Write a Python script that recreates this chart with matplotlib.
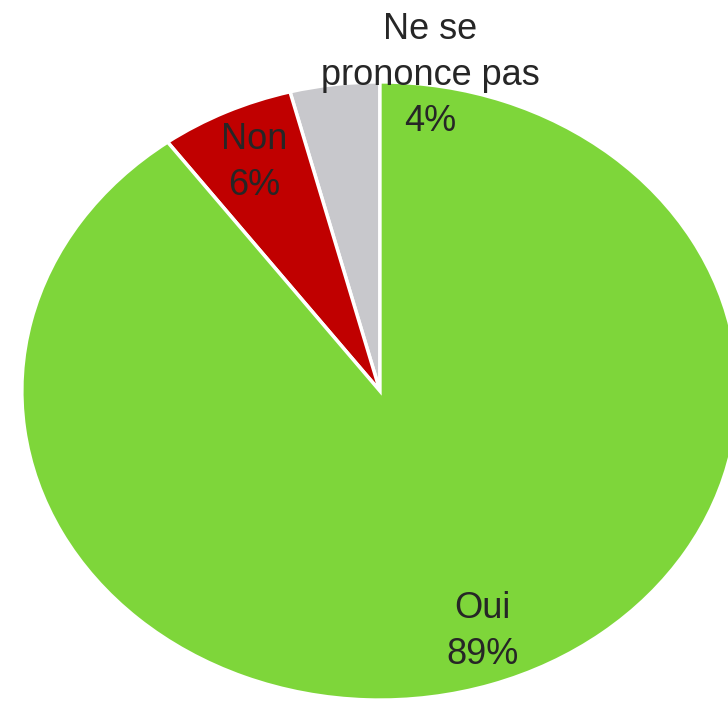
import matplotlib
matplotlib.use("Agg")
import matplotlib.pyplot as plt

categories = ["Ne se\nprononce pas", "Non", "Oui"]
values = [4, 6, 89]
colors = ["#c8c8cc", "#c00000", "#7ed63a"]

plt.rcParams['font.family'] = ['Liberation Sans', 'DejaVu Sans']

fig = plt.figure(figsize=(7.28, 7.01), dpi=100)
ax = fig.add_axes([0, 0, 1, 1])

labels = [f"{c}\n{v}%" for c, v in zip(categories, values)]
wedges, texts = ax.pie(values, labels=labels, colors=colors, startangle=90,
                       counterclock=True, labeldistance=0.82,
                       wedgeprops=dict(edgecolor="white", linewidth=2.5),
                       textprops=dict(fontsize=26, color="#262626",
                                      ha="center", va="center",
                                      linespacing=1.4))
for t in texts:
    t.set_horizontalalignment("center")
# label of the small grey slice sits above the pie
texts[0].set_position((0.14, 1.02))
x, y = texts[2].get_position()
texts[2].set_position((x + 0.03, y))

# the reference pie is stretched horizontally
ax.set_aspect("auto")
ax.set_xlim(-1.061, 0.972)
ax.set_ylim(-1.003, 1.265)
ax.axis("off")

fig.savefig("out.png", dpi=100)
